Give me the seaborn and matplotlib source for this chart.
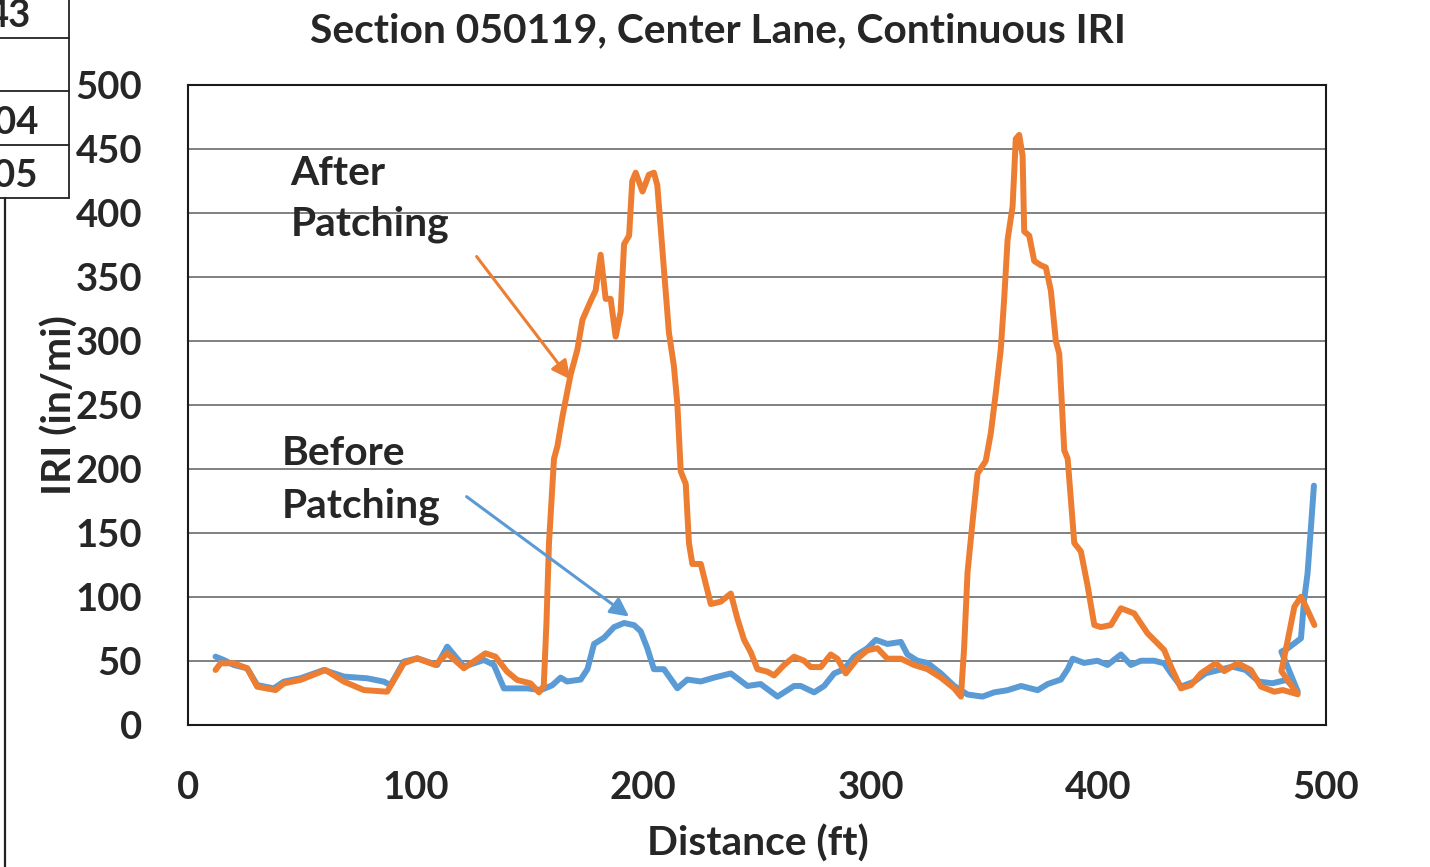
import matplotlib
matplotlib.use("Agg")
import matplotlib.pyplot as plt
import seaborn as sns
import pandas as pd

# Continuous IRI profile, distance in ft
before_ft = [12.1, 15.7, 20.1, 26, 30.4, 37.7, 42.1, 49.4, 59.7, 68.5, 78.7, 86, 89, 94.8,
             100.7, 109.5, 113.9, 121.2, 130, 134.4, 138.8, 149.1, 155, 160, 163.7, 166.6,
             172.5, 175.5, 178.4, 182.8, 187.2, 191.6, 196, 198.9, 201.8, 204.7, 209.1, 215,
             219.4, 225.3, 231.1, 238.5, 245.8, 251.6, 259, 266.3, 269.2, 275.1, 279.5, 283.9,
             288.3, 292.7, 298.5, 302.2, 307.3, 313.2, 316.1, 320.5, 324.9, 330.8, 336.6,
             342.5, 349.1, 354.2, 360.1, 366, 373.3, 377.7, 383.5, 386.5, 388.7, 393.7, 399.6,
             404, 409.9, 414.3, 418.7, 424.5, 428.9, 431.9, 436.3, 442.1, 447.1, 453, 458.8,
             464.7, 470.5, 476.4, 482.6, 487.6, 480.4, 483.2, 486.1, 489, 490.4, 491.9, 493.4,
             494.7]
before_iri = [53.4, 50.8, 46.9, 44.3, 31.2, 28.6, 33.9, 36.5, 43, 37.8, 36.5, 33.9, 31.2, 49.5,
              52.1, 46.9, 61.2, 45.6, 50.8, 46.9, 28.6, 28.6, 27.3, 31, 37, 34,
              35.5, 43.6, 63.3, 68.2, 76.5, 79.7, 78, 73.2, 60, 43.6, 43.6, 28.7,
              35.5, 34, 37, 40.3, 30.5, 32, 22.2, 30.5, 30.5, 25.5, 30.5, 40.3,
              43.6, 53.4, 60, 66.5, 63.3, 64.9, 55.1, 50.2, 48.5, 40.3, 30.5,
              23.8, 22.2, 25.5, 27.2, 30.5, 27.2, 32, 35.5, 43.6, 51.8, 48.5, 50.2,
              46.9, 55.1, 46.9, 50.2, 50.2, 48.2, 40.4, 30, 33.9, 40.4, 43, 45.6,
              43, 33.9, 32.6, 35.2, 26, 57.3, 59.9, 63.8, 67.7, 97.7, 118.5, 154.9,
              187]

after_ft = [12.1, 14.3, 20.1, 26, 30.4, 38.5, 42.1, 49.4, 60.4, 68.5, 77.3, 87.5, 94.8, 100.7,
            108.7, 113.9, 121.2, 130.7, 135.1, 140.2, 144.6, 150.5, 154.2, 156.3, 157.5, 158.6,
            160.8, 162.3, 164.5, 168.1, 171.1, 173.3, 176.9, 179.1, 181.3, 183.5, 185.7, 187.9,
            190.1, 191.6, 193.8, 195.2, 196.7, 199.7, 202.5, 204.7, 206.2, 209.1, 211.3, 213.5,
            215, 216.5, 218.7, 220.1, 221.6, 225.3, 229.7, 234.1, 238.5, 241.4, 244.3, 247.3,
            250.2, 254.6, 257.5, 261.9, 266.3, 270.7, 273.6, 278, 282.4, 285.3, 289, 294.1,
            298.5, 302.9, 307.3, 313.2, 319, 324.9, 330.8, 336.6, 339.6, 341, 342.5, 344.7,
            346.9, 350.5, 352.7, 355, 357.1, 358.6, 360.1, 362.3, 363.7, 365.2, 366.7, 367.4,
            369.6, 371.8, 374.7, 376.9, 379.1, 381.3, 382.8, 385, 386.5, 389.4, 392.3, 395.2,
            398.2, 401.1, 405.5, 409.9, 415.7, 421.6, 428.9, 431.9, 436.3, 440.7, 445.1, 451.6,
            455.3, 461.2, 467, 471.4, 477.3, 481, 487.6, 480.4, 483.2, 486.1, 489, 491.2, 494.9]
after_iri = [43, 48.2, 48.2, 44.3, 29.9, 27.3, 32.5, 35.2, 43, 33.9, 27.3, 26, 48.2, 52.1,
             46.9, 56, 44.3, 56, 53.4, 41.7, 35.2, 32.5, 25.5, 30.5, 80, 142,
             208, 217.8, 240.9, 273.7, 293.4, 316.5, 331.2, 339.5, 367.4, 332.9, 332.9, 303.4,
             323, 375.7, 382.3, 425, 431.5, 416.8, 429.9, 431.5, 421.7, 355.9, 306.6, 280.3,
             250.8, 198.1, 188.3, 142.2, 125.8, 125.8, 94.5, 96.4, 102.7, 83, 66.6, 56.7,
             43.6, 41.6, 38.7, 46.9, 53.4, 50.2, 45.3, 45.2, 55.1, 51.8, 40.3, 51.8,
             58.4, 60, 51.8, 51.8, 46.9, 43.6, 37, 28.7, 22.2, 60, 119.2, 158.7,
             196.5, 206.3, 227.7, 260.6, 293.4, 332.9, 379, 405.2, 457.9, 461, 444.7, 385.6,
             382.3, 362.5, 359.2, 357.5, 339.5, 300, 290.1, 214.5, 208, 142.2, 135.6, 109.3,
             78.1, 76.5, 78.1, 91.2, 87.2, 71.6, 58.6, 45.6, 28.6, 31.2, 40.4, 48.2,
             42.1, 48.2, 43, 30, 26, 27.3, 24, 42, 66.4, 92.4, 100.2, 92.4, 78.1]

x_ticks = [0, 100, 200, 300, 400, 500]
y_ticks = [0, 50, 100, 150, 200, 250, 300, 350, 400, 450, 500]
table_cells = ["43", "", "04", "05"]

BLUE = "#5B9BD5"
ORANGE = "#ED7D31"
FONT = "Lato"
TXT = 29.3   # titles and callouts
NUM = 27.5   # tick numbers

sns.set_style("white")
plt.rcParams["font.family"] = [FONT, "DejaVu Sans"]
plt.rcParams["font.weight"] = "bold"

W, H = 1430, 867
fig = plt.figure(figsize=(W / 100, H / 100), dpi=100)
ax = fig.add_axes([188 / W, 1 - 725 / H, (1326 - 188) / W, (725 - 85) / H])

df_before = pd.DataFrame({"ft": before_ft, "iri": before_iri})
df_after = pd.DataFrame({"ft": after_ft, "iri": after_iri})
sns.lineplot(data=df_before, x="ft", y="iri", sort=False, estimator=None, color=BLUE,
             lw=4.3, ax=ax, zorder=3)
sns.lineplot(data=df_after, x="ft", y="iri", sort=False, estimator=None, color=ORANGE,
             lw=4.3, ax=ax, zorder=4)

ax.set_xlim(0, 500)
ax.set_ylim(0, 500)
ax.set_xticks(x_ticks)
ax.set_yticks(y_ticks)
ax.yaxis.grid(True, color="#808080", lw=1.4)
ax.xaxis.grid(False)
for s in ax.spines.values():
    s.set_visible(True)
    s.set_color("#1a1a1a")
    s.set_linewidth(1.5)

ax.tick_params(axis="both", which="major", direction="out", length=11, width=1.3,
               color="#1a1a1a", labelsize=NUM, pad=22)
for lab in ax.get_xticklabels() + ax.get_yticklabels():
    lab.set_fontweight("bold")

ax.set_xlabel("Distance (ft)", fontsize=TXT, fontweight="bold", va="baseline")
ax.set_ylabel("IRI (in/mi)", fontsize=TXT, fontweight="bold", va="baseline")
ax.xaxis.set_label_coords((758 - 188) / 1138, (725 - 856) / 640)
ax.yaxis.set_label_coords((72 - 188) / 1138, (725 - 405) / 640)

ax.text((718 - 188) / 1138, (725 - 42) / 640, "Section 050119, Center Lane, Continuous IRI",
        transform=ax.transAxes, ha="center", va="baseline", fontsize=TXT, fontweight="bold")

# Callouts
ax.text(45, 421.9, "After", ha="left", va="baseline", fontsize=TXT, fontweight="bold")
ax.text(45, 382.3, "Patching", ha="left", va="baseline", fontsize=TXT, fontweight="bold")
ax.text(41.4, 203.1, "Before", ha="left", va="baseline", fontsize=TXT, fontweight="bold")
ax.text(41.4, 161.9, "Patching", ha="left", va="baseline", fontsize=TXT, fontweight="bold")
ax.annotate("", xy=(168, 270), xytext=(126.8, 366),
            arrowprops=dict(arrowstyle="-|>", color=ORANGE, lw=2.2, mutation_scale=28,
                            shrinkA=0, shrinkB=0), zorder=5)
ax.annotate("", xy=(193.8, 84.7), xytext=(122.4, 178.4),
            arrowprops=dict(arrowstyle="-|>", color=BLUE, lw=2.2, mutation_scale=28,
                            shrinkA=0, shrinkB=0), zorder=5)

# Neighbouring table edge at the top left of the page
row_edges = [38, 91, 145, 198]
for yy in row_edges:
    fig.add_artist(plt.Line2D([0, 69 / W], [1 - yy / H, 1 - yy / H], color="#222222",
                              lw=1.3, transform=fig.transFigure))
fig.add_artist(plt.Line2D([69 / W, 69 / W], [1, 1 - 198 / H], color="#222222", lw=1.3,
                          transform=fig.transFigure))
fig.add_artist(plt.Line2D([5 / W, 5 / W], [1 - 198 / H, 0], color="#222222", lw=1.6,
                          transform=fig.transFigure))
cell_right = [31, 38, 38, 38]
cell_base = [27, 78, 134, 187]
for txt, xr, yb in zip(table_cells, cell_right, cell_base):
    if txt:
        fig.text(xr / W, 1 - yb / H, txt, ha="right", va="baseline", fontsize=NUM,
                 fontweight="bold")

fig.savefig("out.png", dpi=100)
